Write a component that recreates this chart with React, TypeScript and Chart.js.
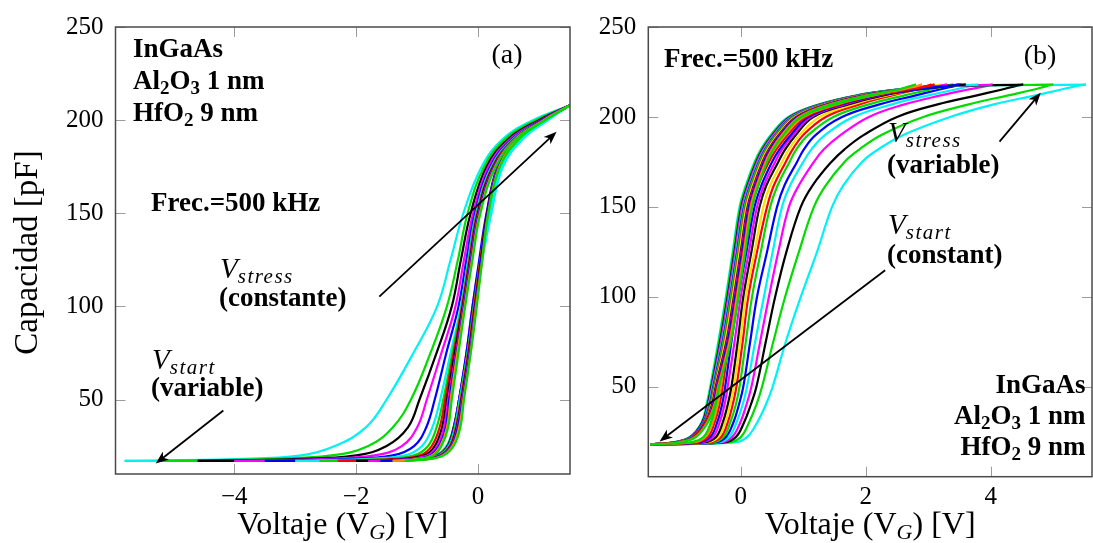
import React, { useEffect, useRef } from 'react';
import { Chart, registerables } from 'chart.js';

Chart.register(...registerables);

// ---------------- data ----------------
const Y_TICKS = [50, 100, 150, 200, 250];
const A_X_TICKS = [-4, -2, 0];
const B_X_TICKS = [0, 2, 4];

// Panel (a): capacitance levels (pF) shared by every branch
const A_LEVELS = [17, 18, 20, 25, 35, 50, 75, 100, 125, 150, 175, 190, 200, 208];
// gate voltage (V) of the upper/left branch of each loop at those levels (outer loop first)
const A_LEFT = [
  [-5.80, -4.00, -2.90, -2.35, -1.84, -1.50, -1.06, -0.67, -0.45, -0.24, 0.06, 0.41, 0.90, 1.51],
  [-5.20, -3.50, -2.40, -1.80, -1.40, -1.10, -0.78, -0.51, -0.33, -0.17, 0.10, 0.45, 0.95, 1.51],
  [-4.60, -3.00, -2.00, -1.50, -1.15, -0.96, -0.68, -0.43, -0.28, -0.12, 0.14, 0.50, 1.00, 1.51],
  [-4.00, -2.60, -1.70, -1.25, -1.00, -0.84, -0.60, -0.37, -0.23, -0.08, 0.17, 0.53, 1.03, 1.51],
  [-3.50, -2.20, -1.40, -1.05, -0.85, -0.71, -0.52, -0.32, -0.19, -0.05, 0.20, 0.56, 1.05, 1.51],
  [-3.00, -1.90, -1.20, -0.92, -0.75, -0.62, -0.45, -0.28, -0.16, -0.03, 0.22, 0.58, 1.07, 1.51],
  [-2.60, -1.60, -1.05, -0.82, -0.68, -0.57, -0.42, -0.27, -0.15, -0.02, 0.23, 0.59, 1.07, 1.51],
  [-2.30, -1.40, -0.95, -0.76, -0.63, -0.54, -0.40, -0.26, -0.14, -0.01, 0.24, 0.60, 1.08, 1.51],
  [-2.00, -1.25, -0.88, -0.71, -0.59, -0.51, -0.38, -0.25, -0.13, 0.00, 0.25, 0.61, 1.08, 1.51],
  [-1.80, -1.15, -0.83, -0.67, -0.56, -0.49, -0.36, -0.24, -0.12, 0.01, 0.26, 0.61, 1.09, 1.51],
  [-1.60, -1.08, -0.79, -0.64, -0.53, -0.47, -0.35, -0.23, -0.11, 0.02, 0.27, 0.62, 1.09, 1.51],
  [-1.40, -1.02, -0.76, -0.62, -0.51, -0.45, -0.34, -0.22, -0.10, 0.03, 0.28, 0.62, 1.09, 1.51],
  [-1.20, -0.98, -0.73, -0.60, -0.49, -0.43, -0.32, -0.21, -0.09, 0.04, 0.29, 0.63, 1.10, 1.51],
];
// gate voltage (V) of the lower/right branch of each loop
const A_RIGHT = [
  [-5.80, -1.10, -0.70, -0.52, -0.40, -0.30, -0.16, -0.05, 0.07, 0.22, 0.41, 0.74, 1.15, 1.51],
  [-5.20, -1.05, -0.68, -0.51, -0.40, -0.31, -0.17, -0.07, 0.05, 0.18, 0.37, 0.69, 1.10, 1.51],
  [-4.60, -1.00, -0.67, -0.50, -0.40, -0.31, -0.18, -0.08, 0.04, 0.16, 0.34, 0.65, 1.07, 1.51],
  [-4.00, -0.98, -0.66, -0.49, -0.39, -0.31, -0.19, -0.09, 0.03, 0.15, 0.33, 0.63, 1.05, 1.51],
  [-3.50, -0.96, -0.65, -0.49, -0.39, -0.31, -0.19, -0.09, 0.02, 0.14, 0.32, 0.62, 1.04, 1.51],
  [-3.00, -0.94, -0.64, -0.48, -0.38, -0.30, -0.17, -0.06, 0.06, 0.20, 0.39, 0.72, 1.13, 1.51],
  [-2.60, -0.92, -0.63, -0.47, -0.37, -0.29, -0.17, -0.07, 0.04, 0.16, 0.35, 0.67, 1.09, 1.51],
  [-2.30, -0.90, -0.62, -0.46, -0.36, -0.28, -0.16, -0.06, 0.04, 0.15, 0.33, 0.64, 1.06, 1.51],
  [-2.00, -0.88, -0.61, -0.45, -0.35, -0.27, -0.15, -0.05, 0.05, 0.15, 0.33, 0.64, 1.06, 1.51],
  [-1.80, -0.86, -0.60, -0.44, -0.34, -0.26, -0.14, -0.04, 0.06, 0.16, 0.33, 0.64, 1.06, 1.51],
  [-1.60, -0.84, -0.59, -0.43, -0.33, -0.25, -0.13, -0.03, 0.06, 0.16, 0.34, 0.65, 1.07, 1.51],
  [-1.40, -0.82, -0.58, -0.42, -0.31, -0.24, -0.12, -0.03, 0.07, 0.17, 0.35, 0.66, 1.08, 1.51],
  [-1.20, -0.80, -0.56, -0.40, -0.29, -0.23, -0.12, -0.02, 0.07, 0.17, 0.36, 0.68, 1.10, 1.51],
];

// Panel (b): capacitance levels (pF)
const B_LEVELS = [18, 19, 22, 30, 40, 50, 75, 100, 125, 150, 162, 175, 182, 190, 200, 207, 212, 215, 217, 218];
// forward sweeps (V) of loops with growing V_stress
const B_FORWARD = [
  [-1.45, -0.82, -0.60, -0.48, -0.40, -0.35, -0.25, -0.14, -0.02, 0.10, 0.20, 0.37, 0.49, 0.67, 0.97, 1.51, 2.10, 2.50, 2.71, 2.80],
  [-1.45, -0.78, -0.57, -0.45, -0.37, -0.32, -0.22, -0.11, 0.02, 0.14, 0.24, 0.41, 0.53, 0.71, 1.00, 1.54, 2.12, 2.58, 2.80, 2.90],
  [-1.45, -0.74, -0.53, -0.42, -0.34, -0.29, -0.19, -0.08, 0.05, 0.18, 0.28, 0.45, 0.57, 0.75, 1.04, 1.58, 2.15, 2.65, 2.97, 3.10],
  [-1.45, -0.70, -0.49, -0.38, -0.30, -0.25, -0.15, -0.04, 0.09, 0.22, 0.33, 0.50, 0.62, 0.80, 1.08, 1.62, 2.20, 2.75, 3.25, 3.50],
  [-1.45, -0.66, -0.45, -0.34, -0.26, -0.21, -0.10, 0.00, 0.13, 0.26, 0.37, 0.55, 0.66, 0.84, 1.12, 1.66, 2.22, 2.72, 3.12, 3.30],
  [-1.45, -0.60, -0.40, -0.29, -0.21, -0.15, -0.05, 0.04, 0.17, 0.30, 0.41, 0.60, 0.71, 0.88, 1.16, 1.72, 2.28, 2.80, 3.28, 3.60],
  [-1.45, -0.56, -0.36, -0.25, -0.17, -0.11, -0.01, 0.08, 0.22, 0.36, 0.47, 0.66, 0.77, 0.94, 1.26, 1.80, 2.34, 2.76, 3.06, 3.20],
  [-1.45, -0.52, -0.32, -0.21, -0.13, -0.07, 0.03, 0.12, 0.26, 0.42, 0.53, 0.72, 0.83, 1.00, 1.36, 1.90, 2.42, 2.78, 2.96, 3.05],
  [-1.45, -0.48, -0.28, -0.17, -0.08, -0.02, 0.08, 0.18, 0.32, 0.47, 0.59, 0.78, 0.89, 1.08, 1.48, 2.05, 2.62, 3.00, 3.25, 3.40],
  [-1.45, -0.42, -0.24, -0.12, -0.03, 0.04, 0.15, 0.26, 0.42, 0.58, 0.70, 0.90, 1.01, 1.20, 1.62, 2.22, 2.80, 3.15, 3.40, 3.53],
  [-1.45, -0.38, -0.19, -0.07, 0.03, 0.10, 0.23, 0.37, 0.51, 0.66, 0.79, 1.00, 1.13, 1.35, 1.80, 2.42, 3.00, 3.40, 3.65, 3.80],
  [-1.45, -0.33, -0.14, -0.01, 0.09, 0.17, 0.31, 0.45, 0.60, 0.77, 0.93, 1.17, 1.33, 1.60, 2.05, 2.62, 3.20, 3.60, 3.90, 4.03],
  [-1.45, -0.28, -0.08, 0.05, 0.16, 0.25, 0.40, 0.55, 0.73, 0.96, 1.15, 1.45, 1.66, 1.97, 2.50, 3.15, 3.78, 4.15, 4.38, 4.52],
  [-1.45, -0.20, 0.00, 0.13, 0.25, 0.34, 0.52, 0.71, 0.93, 1.17, 1.36, 1.66, 1.90, 2.25, 2.92, 3.65, 4.28, 4.66, 4.88, 5.00],
  [-1.45, -0.10, 0.10, 0.26, 0.40, 0.51, 0.72, 0.96, 1.22, 1.46, 1.64, 1.94, 2.20, 2.60, 3.35, 4.05, 4.72, 5.10, 5.35, 5.52],
];
// reverse sweeps (V) of the same loops
const B_REVERSE = [
  [-1.45, -1.00, -0.72, -0.53, -0.41, -0.35, -0.16, -0.04, 0.07, 0.18, 0.28, 0.42, 0.52, 0.68, 0.96, 1.45, 2.04, 2.50, 2.70, 2.80],
  [-1.45, -1.01, -0.73, -0.54, -0.42, -0.36, -0.18, -0.06, 0.05, 0.16, 0.26, 0.40, 0.50, 0.66, 0.94, 1.43, 2.03, 2.55, 2.80, 2.90],
  [-1.45, -1.02, -0.74, -0.55, -0.43, -0.37, -0.19, -0.07, 0.04, 0.15, 0.25, 0.39, 0.49, 0.65, 0.93, 1.42, 2.02, 2.62, 2.98, 3.10],
  [-1.45, -1.02, -0.74, -0.55, -0.44, -0.38, -0.21, -0.09, 0.02, 0.13, 0.23, 0.37, 0.47, 0.63, 0.91, 1.40, 2.00, 2.60, 3.25, 3.50],
  [-1.45, -1.03, -0.75, -0.56, -0.45, -0.39, -0.22, -0.10, 0.01, 0.12, 0.22, 0.36, 0.46, 0.62, 0.90, 1.39, 1.99, 2.59, 3.10, 3.30],
  [-1.45, -1.04, -0.76, -0.57, -0.46, -0.40, -0.23, -0.11, 0.00, 0.11, 0.21, 0.35, 0.45, 0.61, 0.89, 1.38, 1.98, 2.58, 3.23, 3.60],
  [-1.45, -1.04, -0.76, -0.57, -0.47, -0.41, -0.25, -0.13, -0.02, 0.09, 0.19, 0.33, 0.43, 0.59, 0.87, 1.36, 1.96, 2.56, 3.05, 3.20],
  [-1.45, -1.05, -0.77, -0.58, -0.48, -0.42, -0.26, -0.14, -0.03, 0.08, 0.18, 0.32, 0.42, 0.58, 0.86, 1.35, 1.95, 2.55, 2.95, 3.05],
  [-1.45, -1.06, -0.78, -0.59, -0.49, -0.43, -0.28, -0.16, -0.05, 0.06, 0.16, 0.30, 0.40, 0.56, 0.84, 1.33, 1.93, 2.53, 3.18, 3.40],
  [-1.45, -1.07, -0.79, -0.60, -0.50, -0.44, -0.29, -0.17, -0.06, 0.05, 0.15, 0.29, 0.39, 0.55, 0.83, 1.32, 1.92, 2.52, 3.17, 3.53],
  [-1.45, -1.07, -0.79, -0.60, -0.51, -0.45, -0.30, -0.18, -0.07, 0.04, 0.14, 0.28, 0.38, 0.54, 0.82, 1.31, 1.91, 2.51, 3.16, 3.80],
  [-1.45, -1.08, -0.80, -0.61, -0.52, -0.46, -0.32, -0.20, -0.09, 0.02, 0.12, 0.26, 0.36, 0.52, 0.80, 1.29, 1.89, 2.49, 3.14, 4.03],
  [-1.45, -1.09, -0.81, -0.62, -0.53, -0.47, -0.33, -0.21, -0.10, 0.01, 0.11, 0.25, 0.35, 0.51, 0.79, 1.28, 1.88, 2.48, 3.13, 4.52],
  [-1.45, -1.09, -0.81, -0.62, -0.54, -0.48, -0.35, -0.23, -0.12, -0.01, 0.09, 0.23, 0.33, 0.49, 0.77, 1.26, 1.86, 2.46, 3.11, 5.00],
  [-1.45, -1.10, -0.82, -0.63, -0.55, -0.49, -0.36, -0.24, -0.13, -0.02, 0.08, 0.22, 0.32, 0.48, 0.76, 1.25, 1.85, 2.45, 3.10, 5.52],
];

// annotation arrows in data coordinates [V, pF]
const A_ARROWS = [
  { from: [-1.62, 105.2], to: [1.29, 193.7] },
  { from: [-4.18, 44.1], to: [-5.29, 15.6] },
];
const B_ARROWS = [
  { from: [4.14, 186.3], to: [4.80, 213.5] },
  { from: [2.31, 114.8], to: [-1.30, 19.6] },
];

// ---------------- styles ----------------
const PALETTE: Record<string, string> = {
  cyan: '#00f2f2',
  green: '#00dc00',
  black: '#000000',
  magenta: '#ff00ff',
  blue: '#0000ff',
  red: '#ff0000',
  orange: '#ff8c00',
  yellow: '#ffdd00',
};
const A_COLORS = ['cyan', 'green', 'black', 'magenta', 'blue', 'cyan', 'green', 'red', 'black', 'magenta', 'blue', 'orange', 'green'];
const B_COLORS = ['green', 'orange', 'red', 'blue', 'magenta', 'black', 'yellow', 'red', 'green', 'blue', 'cyan', 'magenta', 'black', 'green', 'cyan'];

const FAMILY = "'Liberation Serif', serif";
const BOLD = `bold 27px ${FAMILY}`;
const BOLD_SUB = `bold 19px ${FAMILY}`;
const MATH_V = `italic 29px ${FAMILY}`;
const MATH_SUB = `italic 21px ${FAMILY}`;
const LABEL = `28px ${FAMILY}`;
const TITLE = `32px ${FAMILY}`;
const YTITLE = `33px ${FAMILY}`;
const TITLE_SUB = `italic 22px ${FAMILY}`;

type Seg = { t: string; f: string; dy?: number; ls?: string };
type TextItem = { segs: Seg[]; x: number; y: number; align: 'left' | 'right' | 'center' };

function drawRich(ctx: CanvasRenderingContext2D, segs: Seg[], x: number, y: number, align: string) {
  const widths = segs.map((s) => {
    ctx.font = s.f;
    (ctx as any).letterSpacing = s.ls || '0px';
    return ctx.measureText(s.t).width;
  });
  const w = widths.reduce((a, b) => a + b, 0);
  let cx = align === 'right' ? x - w : align === 'center' ? x - w / 2 : x;
  segs.forEach((s, i) => {
    ctx.font = s.f;
    (ctx as any).letterSpacing = s.ls || '0px';
    ctx.fillText(s.t, cx, y + (s.dy || 0));
    cx += widths[i];
  });
  (ctx as any).letterSpacing = '0px';
}

function drawArrow(ctx: CanvasRenderingContext2D, x1: number, y1: number, x2: number, y2: number) {
  const ang = Math.atan2(y2 - y1, x2 - x1);
  const L = 13;
  const W = 5;
  const c = Math.cos(ang);
  const s = Math.sin(ang);
  ctx.beginPath();
  ctx.moveTo(x1, y1);
  ctx.lineTo(x2 - L * 0.6 * c, y2 - L * 0.6 * s);
  ctx.stroke();
  const bx = x2 - L * c;
  const by = y2 - L * s;
  ctx.beginPath();
  ctx.moveTo(x2, y2);
  ctx.lineTo(bx + W * s, by - W * c);
  ctx.lineTo(x2 - L * 0.72 * c, y2 - L * 0.72 * s);
  ctx.lineTo(bx - W * s, by + W * c);
  ctx.closePath();
  ctx.fill();
}

const fmtTick = (v: number) => (v < 0 ? '\u2212' + Math.abs(v) : String(v));

function xTitleSegs(): Seg[] {
  return [
    { t: 'Voltaje (V', f: TITLE },
    { t: 'G', f: TITLE_SUB, dy: 5 },
    { t: ') [V]', f: TITLE },
  ];
}

function makeDecor(texts: TextItem[], arrows: { from: number[]; to: number[] }[], yTitle: boolean) {
  return {
    id: 'decor',
    beforeDatasetsDraw(chart: any) {
      const { ctx, chartArea: a, scales } = chart;
      ctx.save();
      ctx.strokeStyle = '#9c9c9c';
      ctx.lineWidth = 1;
      const T = 10;
      for (const t of scales.x.ticks) {
        const px = Math.round(scales.x.getPixelForValue(t.value)) + 0.5;
        ctx.beginPath();
        ctx.moveTo(px, a.bottom);
        ctx.lineTo(px, a.bottom - T);
        ctx.moveTo(px, a.top);
        ctx.lineTo(px, a.top + T);
        ctx.stroke();
      }
      for (const t of scales.y.ticks) {
        const py = Math.round(scales.y.getPixelForValue(t.value)) + 0.5;
        ctx.beginPath();
        ctx.moveTo(a.left, py);
        ctx.lineTo(a.left + T, py);
        ctx.moveTo(a.right, py);
        ctx.lineTo(a.right - T, py);
        ctx.stroke();
      }
      ctx.restore();
    },
    afterDatasetsDraw(chart: any) {
      const { ctx, chartArea: a, scales } = chart;
      ctx.save();
      ctx.strokeStyle = '#4a4a4a';
      ctx.lineWidth = 1.5;
      ctx.strokeRect(a.left, a.top, a.right - a.left, a.bottom - a.top);

      ctx.strokeStyle = '#000';
      ctx.fillStyle = '#000';
      ctx.lineWidth = 1.8;
      for (const ar of arrows) {
        drawArrow(
          ctx,
          scales.x.getPixelForValue(ar.from[0]),
          scales.y.getPixelForValue(ar.from[1]),
          scales.x.getPixelForValue(ar.to[0]),
          scales.y.getPixelForValue(ar.to[1])
        );
      }
      ctx.textBaseline = 'alphabetic';
      ctx.textAlign = 'left';
      for (const t of texts) drawRich(ctx, t.segs, t.x, t.y, t.align);

      drawRich(ctx, xTitleSegs(), (a.left + a.right) / 2, 534, 'center');
      if (yTitle) {
        ctx.save();
        ctx.translate(37, (a.top + a.bottom) / 2 + 2);
        ctx.rotate(-Math.PI / 2);
        drawRich(ctx, [{ t: 'Capacidad [pF]', f: YTITLE }], 0, 0, 'center');
        ctx.restore();
      }
      ctx.restore();
    },
  };
}

function materialSegs(): Seg[][] {
  return [
    [{ t: 'InGaAs', f: BOLD }],
    [
      { t: 'Al', f: BOLD },
      { t: '2', f: BOLD_SUB, dy: 5 },
      { t: 'O', f: BOLD },
      { t: '3', f: BOLD_SUB, dy: 5 },
      { t: ' 1 nm', f: BOLD },
    ],
    [
      { t: 'HfO', f: BOLD },
      { t: '2', f: BOLD_SUB, dy: 5 },
      { t: ' 9 nm', f: BOLD },
    ],
  ];
}

const vSegs = (sub: string): Seg[] => [
  { t: 'V', f: MATH_V },
  { t: sub, f: MATH_SUB, dy: 5, ls: '1.5px' },
];

function branch(xs: number[], levels: number[], color: string) {
  return {
    data: xs.map((x, j) => ({ x, y: levels[j] })),
    borderColor: PALETTE[color],
    backgroundColor: PALETTE[color],
    borderWidth: 2.2,
    pointRadius: 0,
    fill: false,
    tension: 0.4,
  };
}

function axes(xMin: number, xMax: number, yMin: number, xTicks: number[], yWidth: number, xHeight: number, xPad: number) {
  const tickFont = { family: FAMILY, size: 25 };
  return {
    x: {
      type: 'linear',
      min: xMin,
      max: xMax,
      bounds: 'data',
      grid: { display: false, drawTicks: false },
      border: { display: false },
      ticks: { font: tickFont, color: '#000', padding: xPad, autoSkip: false, maxRotation: 0, callback: (v: number) => fmtTick(v) },
      afterBuildTicks: (s: any) => {
        s.ticks = xTicks.map((v) => ({ value: v }));
      },
      afterFit: (s: any) => {
        s.height = xHeight;
      },
    },
    y: {
      type: 'linear',
      min: yMin,
      max: 250,
      bounds: 'data',
      grid: { display: false, drawTicks: false },
      border: { display: false },
      ticks: { font: tickFont, color: '#000', padding: 12, autoSkip: false, callback: (v: number) => String(v) },
      afterBuildTicks: (s: any) => {
        s.ticks = Y_TICKS.map((v) => ({ value: v }));
      },
      afterFit: (s: any) => {
        s.width = yWidth;
      },
    },
  };
}

function configA(): any {
  const datasets: any[] = [];
  for (let i = A_LEFT.length - 1; i >= 0; i--) {
    datasets.push(branch(A_LEFT[i], A_LEVELS, A_COLORS[i]));
    datasets.push(branch(A_RIGHT[i], A_LEVELS, A_COLORS[i]));
  }
  const m = materialSegs();
  const texts: TextItem[] = [
    { segs: m[0], x: 133, y: 57, align: 'left' },
    { segs: m[1], x: 133, y: 89, align: 'left' },
    { segs: m[2], x: 133, y: 121, align: 'left' },
    { segs: [{ t: '(a)', f: LABEL }], x: 507, y: 63, align: 'center' },
    { segs: [{ t: 'Frec.=500 kHz', f: BOLD }], x: 151, y: 211, align: 'left' },
    { segs: vSegs('stress'), x: 220, y: 278, align: 'left' },
    { segs: [{ t: '(constante)', f: BOLD }], x: 219, y: 306, align: 'left' },
    { segs: vSegs('start'), x: 152, y: 369, align: 'left' },
    { segs: [{ t: '(variable)', f: BOLD }], x: 151, y: 396, align: 'left' },
  ];
  return {
    type: 'line',
    data: { datasets },
    options: {
      animation: false,
      responsive: false,
      maintainAspectRatio: false,
      events: [],
      layout: { padding: { top: 22.3, right: 10, left: 0, bottom: 0 } },
      plugins: { legend: { display: false }, tooltip: { enabled: false }, title: { display: false } },
      scales: axes(-5.95, 1.51, 10, A_X_TICKS, 115.5, 69, 8),
    },
    plugins: [makeDecor(texts, A_ARROWS, true)],
  };
}

function configB(): any {
  const datasets: any[] = [];
  for (let i = 0; i < B_REVERSE.length; i++) {
    datasets.push(branch(B_REVERSE[i], B_LEVELS, B_COLORS[i]));
  }
  for (let i = 0; i < B_FORWARD.length; i++) {
    datasets.push(branch(B_FORWARD[i], B_LEVELS, B_COLORS[i]));
  }
  const m = materialSegs();
  const texts: TextItem[] = [
    { segs: [{ t: 'Frec.=500 kHz', f: BOLD }], x: 74, y: 67, align: 'left' },
    { segs: [{ t: '(b)', f: LABEL }], x: 450, y: 64, align: 'center' },
    { segs: vSegs('stress'), x: 298, y: 142, align: 'left' },
    { segs: [{ t: '(variable)', f: BOLD }], x: 297, y: 173, align: 'left' },
    { segs: vSegs('start'), x: 298, y: 234, align: 'left' },
    { segs: [{ t: '(constant)', f: BOLD }], x: 297, y: 263, align: 'left' },
    { segs: m[0], x: 495.5, y: 393, align: 'right' },
    { segs: m[1], x: 495.5, y: 424, align: 'right' },
    { segs: m[2], x: 495.5, y: 455, align: 'right' },
  ];
  return {
    type: 'line',
    data: { datasets },
    options: {
      animation: false,
      responsive: false,
      maintainAspectRatio: false,
      events: [],
      layout: { padding: { top: 22.7, right: 1, left: 0, bottom: 0 } },
      plugins: { legend: { display: false }, tooltip: { enabled: false }, title: { display: false } },
      scales: axes(-1.48, 5.62, 0, B_X_TICKS, 58.3, 66.3, 6),
    },
    plugins: [makeDecor(texts, B_ARROWS, false)],
  };
}

export default function App() {
  const refA = useRef<HTMLCanvasElement>(null);
  const refB = useRef<HTMLCanvasElement>(null);
  useEffect(() => {
    const a = new Chart(refA.current as HTMLCanvasElement, configA());
    const b = new Chart(refB.current as HTMLCanvasElement, configB());
    return () => {
      a.destroy();
      b.destroy();
    };
  }, []);
  return (
    <div style={{ position: 'absolute', left: 0, top: 0, width: 1093, height: 543, background: '#fff', overflow: 'hidden' }}>
      <canvas ref={refA} width={580} height={543} style={{ position: 'absolute', left: 0, top: 0, width: 580, height: 543 }} />
      <canvas ref={refB} width={503} height={543} style={{ position: 'absolute', left: 590, top: 0, width: 503, height: 543 }} />
    </div>
  );
}
